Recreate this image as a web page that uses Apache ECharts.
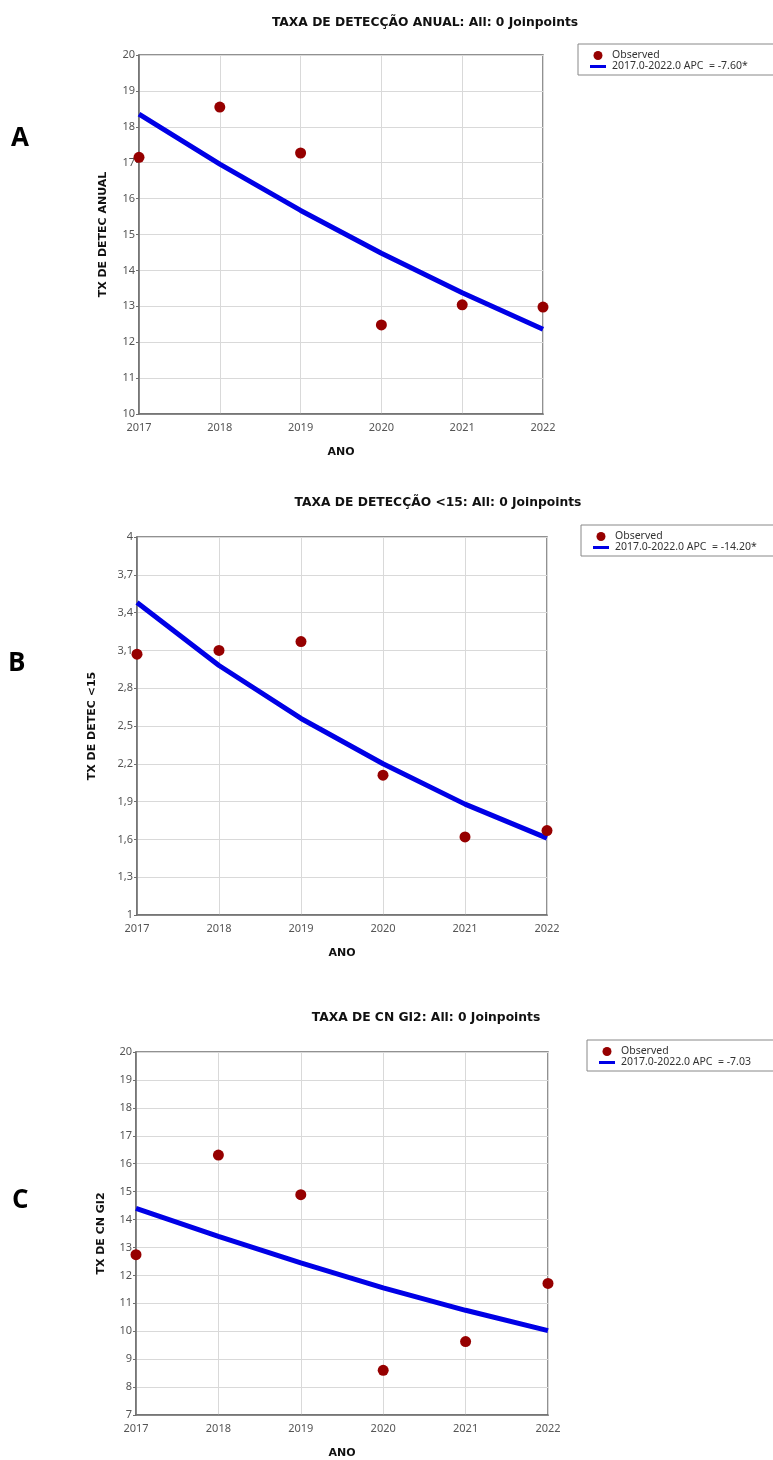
<!DOCTYPE html>
<html>
<head>
<meta charset="utf-8">
<script src="https://cdn.jsdelivr.net/npm/echarts@6/dist/echarts.min.js"></script>
<style>
html,body{margin:0;padding:0;background:#fff;}
#chart{width:773px;height:1460px;}
</style>
</head>
<body>
<div id="chart"></div>
<script>
const years = [2017, 2018, 2019, 2020, 2021, 2022];

const titles = [
  'TAXA DE DETECÇÃO ANUAL: All: 0 Joinpoints',
  'TAXA DE DETECÇÃO <15: All: 0 Joinpoints',
  'TAXA DE CN GI2: All: 0 Joinpoints'
];
const yNames = ['TX DE DETEC ANUAL', 'TX DE DETEC <15', 'TX DE CN GI2'];
const xName = 'ANO';
const panelLetters = ['A', 'B', 'C'];
const obsName = 'Observed';
const fitNames = [
  '2017.0-2022.0 APC  = -7.60*',
  '2017.0-2022.0 APC  = -14.20*',
  '2017.0-2022.0 APC  = -7.03'
];

const obsA = [17.15, 18.55, 17.27, 12.48, 13.04, 12.98];
const fitA = [18.35, 16.96, 15.67, 14.48, 13.38, 12.36];
const obsB = [3.07, 3.10, 3.17, 2.11, 1.62, 1.67];
const fitB = [3.48, 2.98, 2.56, 2.20, 1.88, 1.61];
const obsC = [12.74, 16.31, 14.89, 8.60, 9.63, 11.71];
const fitC = [14.40, 13.40, 12.45, 11.55, 10.75, 10.02];

const yMin = [10, 1, 7];
const yMax = [20, 4, 20];
const yStep = [1, 0.3, 1];

const obsData = [obsA, obsB, obsC];
const fitData = [fitA, fitB, fitC];

// layout (pixels)
const grids = [
  {left: 139, right: 230, top: 55, height: 359},
  {left: 137, right: 226, top: 537, height: 378},
  {left: 136, right: 225, top: 1052, height: 366}
];
const titlePos = [{x: 420, y: 12}, {x: 433, y: 492}, {x: 421, y: 1007}];
const legendPos = [{x: 578, y: 44}, {x: 581, y: 525}, {x: 587, y: 1040}];
const letterPos = [{x: 11, y: 126}, {x: 8, y: 651}, {x: 12, y: 1188}];
const yNameGap = [30, 39, 29];

const RED = '#960000';
const BLUE = '#0000e6';

const pair = (arr) => years.map((y, i) => [y, arr[i]]);

const option = {
  backgroundColor: '#fff',
  animation: false,
  title: titles.map((t, i) => ({
    text: t,
    left: titlePos[i].x,
    top: titlePos[i].y,
    textAlign: 'center',
    textStyle: {fontFamily: 'DejaVu Sans', fontWeight: 'bold', fontSize: 12.3, color: '#111'}
  })),
  legend: [0, 1, 2].map(i => ({
    orient: 'vertical',
    left: legendPos[i].x,
    top: legendPos[i].y,
    padding: [6, 30, 3, 12],
    itemGap: 0,
    itemWidth: 16,
    itemHeight: 9,
    borderColor: '#888',
    borderWidth: 1,
    backgroundColor: '#fff',
    selectedMode: false,
    textStyle: {fontFamily: 'Noto Sans', fontSize: 10.5, color: '#333', lineHeight: 11, padding: [0, 0, 0, 1]},
    data: [
      {name: obsName, icon: 'circle', itemStyle: {color: RED}},
      {name: fitNames[i], icon: 'path://M0,0H16V3H0Z', itemStyle: {color: BLUE}}
    ]
  })),
  graphic: panelLetters.map((l, i) => ({
    type: 'text',
    left: letterPos[i].x,
    top: letterPos[i].y,
    style: {text: l, font: 'bold 26px "Open Sans"', fill: '#000'}
  })),
  grid: grids.map(g => ({
    left: g.left, right: g.right, top: g.top, height: g.height,
    show: true, borderColor: '#6e6e6e', borderWidth: 1.5, backgroundColor: '#fff'
  })),
  xAxis: [0, 1, 2].map(i => ({
    type: 'value',
    gridIndex: i,
    min: 2017, max: 2022, interval: 1,
    name: xName,
    nameLocation: 'middle',
    nameGap: 33,
    nameTextStyle: {fontFamily: 'DejaVu Sans', fontWeight: 'bold', fontSize: 11, color: '#111'},
    axisLine: {show: true, lineStyle: {color: '#6e6e6e', width: 1.5}},
    axisTick: {show: false},
    axisLabel: {fontFamily: 'Noto Sans', fontSize: 11, color: '#555', margin: 8, formatter: v => String(v)},
    splitLine: {show: true, lineStyle: {color: '#d9d9d9', width: 1}}
  })),
  yAxis: [0, 1, 2].map(i => ({
    type: 'value',
    gridIndex: i,
    min: yMin[i], max: yMax[i], interval: yStep[i],
    name: yNames[i],
    nameLocation: 'middle',
    nameRotate: 90,
    nameGap: yNameGap[i],
    nameTextStyle: {fontFamily: 'DejaVu Sans', fontWeight: 'bold', fontSize: 11, color: '#111'},
    axisLine: {show: true, lineStyle: {color: '#6e6e6e', width: 1.5}},
    axisTick: {show: true, length: 3, lineStyle: {color: '#6e6e6e'}},
    axisLabel: {
      fontFamily: 'Noto Sans', fontSize: 11, color: '#555', margin: 4,
      formatter: v => String(Math.round(v * 10) / 10).replace('.', ',')
    },
    splitLine: {show: true, lineStyle: {color: '#d9d9d9', width: 1}}
  })),
  series: [0, 1, 2].flatMap(i => [
    {
      name: fitNames[i],
      type: 'line',
      xAxisIndex: i, yAxisIndex: i,
      data: pair(fitData[i]),
      symbol: 'none',
      showSymbol: false,
      smooth: false,
      lineStyle: {color: BLUE, width: 5},
      itemStyle: {color: BLUE},
      z: 2
    },
    {
      name: obsName,
      type: 'scatter',
      xAxisIndex: i, yAxisIndex: i,
      data: pair(obsData[i]),
      symbol: 'circle',
      symbolSize: 11,
      itemStyle: {color: RED, opacity: 1},
      z: 3
    }
  ])
};

const chart = echarts.init(document.getElementById('chart'), null, {renderer: 'canvas'});
chart.setOption(option);
</script>
</body>
</html>
